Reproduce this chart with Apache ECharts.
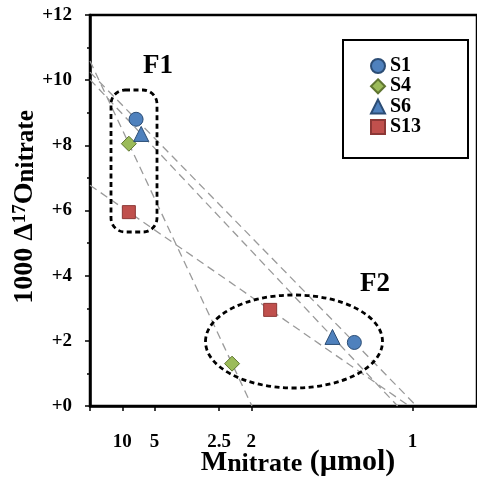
<!DOCTYPE html>
<html>
<head>
<meta charset="utf-8">
<script src="https://cdn.jsdelivr.net/npm/echarts@6/dist/echarts.min.js"></script>
<style>html,body{margin:0;padding:0;background:#fff;}#c{width:477px;height:479px;}</style>
</head>
<body>
<div id="c"></div>
<script>
// ---- data ----
const samples = ['S1', 'S4', 'S6', 'S13'];
const fractions = ['F1', 'F2'];
// M nitrate (µmol) for F1, F2
const s1M = [7.0, 1.22];
const s4M = [8.3, 2.27];
const s6M = [6.3, 1.33];
const s13M = [8.3, 1.79];
// 1000 Δ17O nitrate for F1, F2
const s1D = [8.8, 1.95];
const s4D = [8.05, 1.3];
const s6D = [8.35, 2.12];
const s13D = [5.95, 2.95];
// x axis tick labels (M values, axis is 1/M)
const xTickM = [10, 5, 2.5, 2, 1];
const xTickLabels = ['10', '5', '2.5', '2', '1'];

const FONT = 'Liberation Serif';
const sampleM = {S1: s1M, S4: s4M, S6: s6M, S13: s13M};
const sampleD = {S1: s1D, S4: s4D, S6: s6D, S13: s13D};
const symbols = {S1: 'circle', S4: 'diamond', S6: 'triangle', S13: 'rect'};
const sizes = {S1: 14, S4: 15, S6: 15, S13: 13};
const fills = {S1: '#4F81BD', S4: '#9BBB59', S6: '#4F81BD', S13: '#C0504D'};
const strokes = {S1: '#2C4D75', S4: '#5F7530', S6: '#2C4D75', S13: '#8C3836'};

const series = [];
samples.forEach(function (s) {
  const pts = sampleM[s].map(function (m, i) { return [1 / m, sampleD[s][i]]; });
  // mixing line through the two fractions, extended to the axes
  const slope = (pts[1][1] - pts[0][1]) / (pts[1][0] - pts[0][0]);
  const b = pts[0][1] - slope * pts[0][0];
  const x0 = -b / slope;
  series.push({
    type: 'line', name: s + ' line', data: [[0, b], [x0, 0]],
    showSymbol: false, symbol: 'none', silent: true, z: 1,
    lineStyle: {color: '#9a9a9a', width: 1.3, type: [8, 5]}
  });
});
samples.forEach(function (s) {
  series.push({
    type: 'scatter', name: s, z: 3,
    symbol: symbols[s], symbolSize: sizes[s],
    itemStyle: {color: fills[s], borderColor: strokes[s], borderWidth: 1, opacity: 1},
    data: sampleM[s].map(function (m, i) { return [1 / m, sampleD[s][i]]; })
  });
});

const xTickVals = xTickM.map(function (m) { return 1 / m; });

const chart = echarts.init(document.getElementById('c'), null, {renderer: 'canvas'});
chart.setOption({
  backgroundColor: '#fff',
  animation: false,
  grid: {left: 90, top: 15, right: -3, bottom: 73, show: true, borderColor: '#000', borderWidth: 2.5, backgroundColor: 'transparent'},
  xAxis: {
    type: 'value', min: 0, max: 1.2,
    axisLine: {show: true, onZero: false, lineStyle: {color: '#000', width: 2.5}},
    axisTick: {show: true, inside: false, length: 5, customValues: [0].concat(xTickVals), lineStyle: {color: '#000', width: 1.5}},
    axisLabel: {
      customValues: xTickVals, margin: 27,
      fontFamily: FONT, fontWeight: 'bold', fontSize: 19, color: '#000',
      formatter: function (v) {
        for (let i = 0; i < xTickVals.length; i++) {
          if (Math.abs(xTickVals[i] - v) < 1e-6) return xTickLabels[i];
        }
        return '';
      }
    },
    splitLine: {show: false}
  },
  yAxis: {
    type: 'value', min: 0, max: 12, interval: 2,
    axisLine: {show: true, onZero: false, lineStyle: {color: '#000', width: 2.5}},
    axisTick: {show: true, inside: false, length: 5, lineStyle: {color: '#000', width: 1.5}},
    minorTick: {show: true, splitNumber: 2, length: 3, lineStyle: {color: '#000', width: 1.5}},
    axisLabel: {
      margin: 18, fontFamily: FONT, fontWeight: 'bold', fontSize: 19, color: '#000',
      formatter: function (v) { return '+' + v; }
    },
    splitLine: {show: false}
  },
  legend: {
    data: samples, orient: 'vertical', left: 370, top: 56, padding: 0,
    itemWidth: 14, itemHeight: 14, itemGap: 0.3,
    textStyle: {fontFamily: FONT, fontWeight: 'bold', fontSize: 20, color: '#000'}
  },
  graphic: [
    {type: 'rect', z: 1, silent: true, shape: {x: 343, y: 40, width: 125, height: 118},
     style: {fill: '#fff', stroke: '#000', lineWidth: 2}},
    {type: 'rect', z: 2, silent: true, shape: {x: 111, y: 90, width: 46, height: 142, r: 14},
     style: {fill: null, stroke: '#000', lineWidth: 2.8, lineDash: [5, 3.5]}},
    {type: 'ellipse', z: 2, silent: true, shape: {cx: 294, cy: 341.5, rx: 88.5, ry: 46.5},
     style: {fill: null, stroke: '#000', lineWidth: 2.8, lineDash: [5, 3.5]}},
    {type: 'text', z: 5, x: 158, y: 66, silent: true,
     style: {text: 'F1', font: 'bold 27px "Liberation Serif"', fill: '#000', textAlign: 'center', textVerticalAlign: 'middle'}},
    {type: 'text', z: 5, x: 375, y: 284, silent: true,
     style: {text: 'F2', font: 'bold 27px "Liberation Serif"', fill: '#000', textAlign: 'center', textVerticalAlign: 'middle'}},
    {type: 'text', z: 5, x: 298, y: 462, silent: true,
     style: {
       text: '{m|M}{n|nitrate}{p| (µmol)}', textAlign: 'center', textVerticalAlign: 'middle', fill: '#000',
       rich: {
         m: {fontFamily: FONT, fontWeight: 'bold', fontSize: 28, verticalAlign: 'bottom'},
         n: {fontFamily: FONT, fontWeight: 'bold', fontSize: 26, verticalAlign: 'bottom'},
         p: {fontFamily: FONT, fontWeight: 'bold', fontSize: 30, verticalAlign: 'bottom'}
       }
     }},
    {type: 'text', z: 5, x: 25, y: 207, rotation: Math.PI / 2, silent: true,
     style: {
       text: '{a|1000 Δ}{s|17}{a|O}{n|nitrate}', textAlign: 'center', textVerticalAlign: 'middle', fill: '#000',
       rich: {
         a: {fontFamily: FONT, fontWeight: 'bold', fontSize: 28, verticalAlign: 'bottom'},
         s: {fontFamily: FONT, fontWeight: 'bold', fontSize: 19, verticalAlign: 'top'},
         n: {fontFamily: FONT, fontWeight: 'bold', fontSize: 25, verticalAlign: 'bottom'}
       }
     }}
  ],
  series: series
});
</script>
</body>
</html>
